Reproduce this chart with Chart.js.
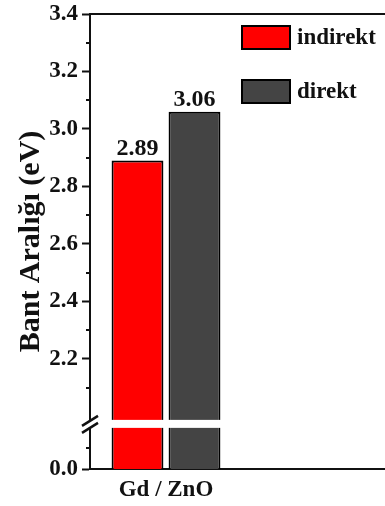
<!DOCTYPE html>
<html>
<head>
<meta charset="utf-8">
<script src="https://cdn.jsdelivr.net/npm/chart.js@4.4.1/dist/chart.umd.min.js"></script>
<style>
  html, body { margin: 0; padding: 0; background: #fff; overflow: hidden; }
  #wrap { width: 404px; height: 506px; }
</style>
</head>
<body>
<div id="wrap"><canvas id="gapChart" width="404" height="506"></canvas></div>
<script>
const categories = ['Gd / ZnO', ''];
const seriesNames = ['indirekt', 'direkt'];
const indirektValues = [2.89, null];
const direktValues = [3.06, null];
const yTickValues = [0.0, 2.2, 2.4, 2.6, 2.8, 3.0, 3.2, 3.4];
const yTickLabels = ['0.0', '2.2', '2.4', '2.6', '2.8', '3.0', '3.2', '3.4'];
const yMinorValues = [0.1, 2.1, 2.3, 2.5, 2.7, 2.9, 3.1, 3.3];

// broken axis: values >= 2.0 are shown as is, the low part is squeezed under the break
const axisMin = 1.817;
const breakAt = 1.974;
function toAxis(v) {
    if (v === null) return null;
    if (v >= 2.0) return v;
    return axisMin + v * 0.73;
}

const serif = '"Liberation Serif", "Times New Roman", serif';
const ink = '#111';

const extras = {
    id: 'extras',
    afterDatasetsDraw(chart) {
        const ctx = chart.ctx;
        const area = chart.chartArea;
        const y = chart.scales.y;

        // value labels above the bars
        ctx.save();
        ctx.font = 'bold 24px ' + serif;
        ctx.fillStyle = ink;
        ctx.textAlign = 'center';
        ctx.textBaseline = 'alphabetic';
        chart.data.datasets.forEach((ds, i) => {
            chart.getDatasetMeta(i).data.forEach((bar, j) => {
                const v = ds.realValues[j];
                if (v === null) return;
                ctx.fillText(v.toFixed(2), bar.x, bar.y - 6);
            });
        });

        // white band through the bars at the break
        const by = y.getPixelForValue(breakAt);
        ctx.fillStyle = '#fff';
        ctx.fillRect(area.left + 2, by - 4, area.right - area.left - 4, 8);

        // minor ticks
        ctx.strokeStyle = ink;
        ctx.lineWidth = 2;
        yMinorValues.forEach(v => {
            const py = Math.round(y.getPixelForValue(toAxis(v)));
            ctx.beginPath();
            ctx.moveTo(area.left - 4, py);
            ctx.lineTo(area.left, py);
            ctx.stroke();
        });

        // break marks on both side axes
        [area.left, area.right].forEach(x => {
            ctx.fillStyle = '#fff';
            ctx.beginPath();
            ctx.moveTo(x - 8, by + 2);
            ctx.lineTo(x + 8, by - 8);
            ctx.lineTo(x + 8, by - 1);
            ctx.lineTo(x - 8, by + 9);
            ctx.closePath();
            ctx.fill();
            ctx.strokeStyle = ink;
            ctx.lineWidth = 2.5;
            ctx.beginPath();
            ctx.moveTo(x - 8, by + 2);
            ctx.lineTo(x + 8, by - 8);
            ctx.moveTo(x - 8, by + 9);
            ctx.lineTo(x + 8, by - 1);
            ctx.stroke();
        });

        // top frame line
        ctx.lineWidth = 2;
        ctx.beginPath();
        ctx.moveTo(area.left, area.top);
        ctx.lineTo(area.right, area.top);
        ctx.stroke();

        // legend
        ctx.font = 'bold 23px ' + serif;
        chart.data.datasets.forEach((ds, i) => {
            const lx = area.left + 152;
            const ly = area.top + 12 + i * 54;
            ctx.fillStyle = ds.backgroundColor;
            ctx.fillRect(lx, ly, 48, 23);
            ctx.strokeStyle = '#000';
            ctx.lineWidth = 2;
            ctx.strokeRect(lx, ly, 48, 23);
            ctx.fillStyle = ink;
            ctx.textAlign = 'left';
            ctx.textBaseline = 'middle';
            ctx.fillText(ds.label, lx + 55, ly + 12);
        });

        // y axis title
        ctx.translate(31, (area.top + area.bottom) / 2);
        ctx.rotate(-Math.PI / 2);
        ctx.font = 'bold 30px ' + serif;
        ctx.textAlign = 'center';
        ctx.textBaseline = 'middle';
        ctx.fillText('Bant Aralığı (eV)', 0, 0);
        ctx.restore();
    }
};

const ctx = document.getElementById('gapChart').getContext('2d');
new Chart(ctx, {
    type: 'bar',
    data: {
        labels: categories,
        datasets: [{
            label: seriesNames[0],
            data: indirektValues.map(toAxis),
            realValues: indirektValues,
            backgroundColor: '#ff0000',
            borderColor: '#000',
            borderWidth: 2,
            borderSkipped: false,
            barPercentage: 0.91,
            categoryPercentage: 0.75
        }, {
            label: seriesNames[1],
            data: direktValues.map(toAxis),
            realValues: direktValues,
            backgroundColor: '#444444',
            borderColor: '#000',
            borderWidth: 2,
            borderSkipped: false,
            barPercentage: 0.91,
            categoryPercentage: 0.75
        }]
    },
    options: {
        responsive: false,
        animation: false,
        layout: { padding: { top: 14, right: 10, left: 0, bottom: 0 } },
        plugins: {
            legend: { display: false },
            tooltip: { enabled: false }
        },
        scales: {
            x: {
                grid: { display: false, drawTicks: false },
                border: { color: ink, width: 2 },
                ticks: { color: ink, font: { family: serif, size: 23, weight: 'bold' }, padding: 7 },
                afterFit(scale) { scale.height = 37; }
            },
            y: {
                min: axisMin,
                max: 3.4,
                bounds: 'data',
                grid: { drawOnChartArea: false, tickLength: 8, tickColor: ink, tickWidth: 2 },
                border: { color: ink, width: 2 },
                ticks: {
                    color: ink,
                    font: { family: serif, size: 23, weight: 'bold' },
                    padding: 4,
                    callback: (value, index) => yTickLabels[index]
                },
                afterBuildTicks(scale) {
                    scale.ticks = yTickValues.map(v => ({ value: toAxis(v) }));
                },
                afterFit(scale) {
                    scale.width = 90;
                    scale.paddingTop = 0;
                    scale.paddingBottom = 0;
                }
            }
        }
    },
    plugins: [extras]
});
</script>
</body>
</html>
